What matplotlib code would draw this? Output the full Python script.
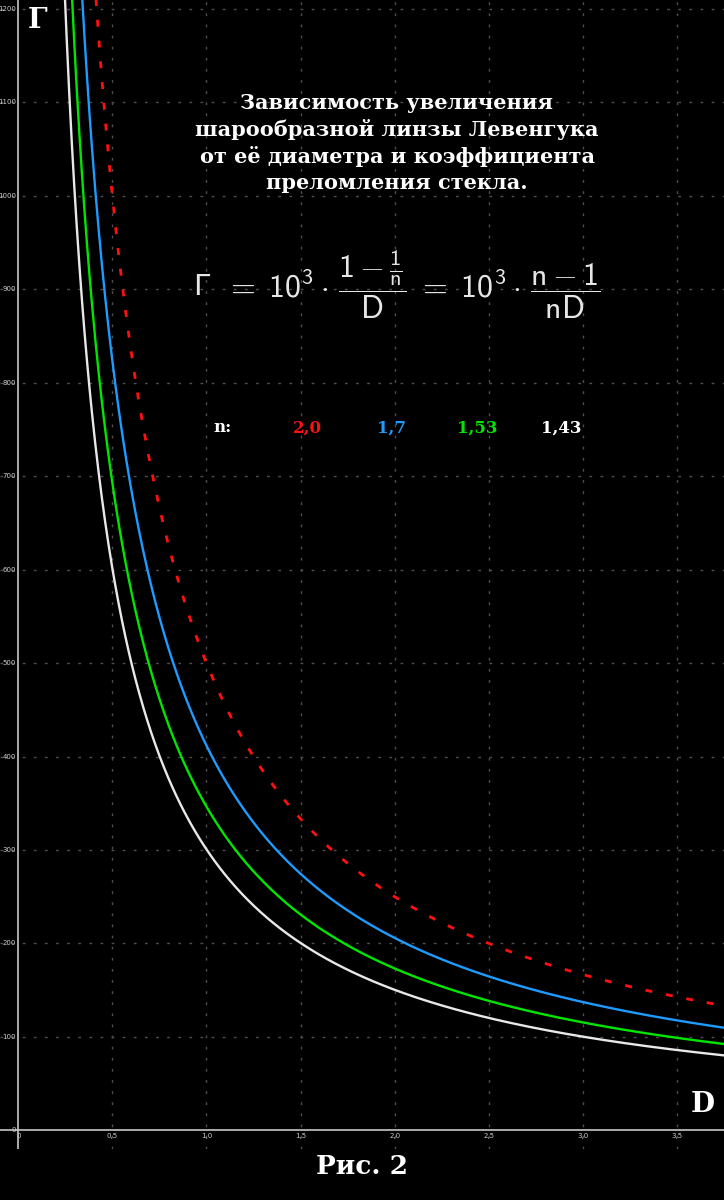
import numpy as np
import matplotlib
matplotlib.use("Agg")
import matplotlib.pyplot as plt

# Data
n_values = [2.0, 1.7, 1.53, 1.43]
n_labels = ["2,0", "1,7", "1,53", "1,43"]
colors = ["#ff1010", "#1e9bff", "#00e600", "#e8e8e8"]
styles = [(0, (2.5, 5)), "-", "-", "-"]
x_ticks = [0, 0.5, 1.0, 1.5, 2.0, 2.5, 3.0, 3.5]
x_tick_labels = ["0", "0,5", "1,0", "1,5", "2,0", "2,5", "3,0", "3,5"]
y_ticks = [0, 100, 200, 300, 400, 500, 600, 700, 800, 900, 1000, 1100, 1200]

plt.rcParams["mathtext.fontset"] = "custom"
plt.rcParams["mathtext.rm"] = "cmss10"
plt.rcParams["mathtext.sf"] = "cmss10"
plt.rcParams["mathtext.it"] = "cmss10"

fig = plt.figure(figsize=(7.24, 12), dpi=100, facecolor="black")
ax = fig.add_axes([0, 1 - 1149 / 1200, 1, 1149 / 1200], facecolor="black")

xmin, xmax = -0.097, 3.75
ymin, ymax = -20.0, 1209.6
ax.set_xlim(xmin, xmax)
ax.set_ylim(ymin, ymax)

for s in ax.spines.values():
    s.set_visible(False)
ax.set_xticks([])
ax.set_yticks([])

# grid
for xt in x_ticks[1:]:
    ax.axvline(xt, color="#4f4f4f", lw=1.0, ls=(0, (2, 6)), zorder=1)
for yt in y_ticks[1:]:
    ax.axhline(yt, color="#4f4f4f", lw=1.0, ls=(0, (2, 6)), zorder=1)

# axes lines
ax.axhline(0, color="#c8c8c8", lw=1.2, zorder=2)
ax.axvline(0, color="#c8c8c8", lw=1.2, zorder=2)

# tick labels
for xt, lab in zip(x_ticks, x_tick_labels):
    ax.text(xt, -3, lab, color="#cfcfcf", fontsize=5, ha="center", va="top", zorder=3)
for yt in y_ticks:
    ax.text(-0.012, yt, str(yt), color="#cfcfcf", fontsize=5, ha="right", va="center", zorder=3)

# curves (function defined by the formula shown on the chart)
D = np.linspace(0.2, xmax, 800)
for n, c, ls in zip(n_values, colors, styles):
    G = 1000 * (1 - 1 / n) / D
    ax.plot(D, G, color=c, lw=1.7 if ls == "-" else 2.0, ls=ls, zorder=4)

serif = ["DejaVu Serif"]
# title
fig.text(397 / 724, 1 - 143 / 1200,
         "Зависимость увеличения\nшарообразной линзы Левенгука\nот её диаметра и коэффициента\nпреломления стекла.",
         color="white", fontsize=15, fontweight="bold", family=serif,
         ha="center", va="center", linespacing=1.35)

# formula
fig.text(201 / 724, 1 - 287 / 1200, "Γ", color="#e6e6e6", fontsize=21,
         family=["DejaVu Sans"], ha="center", va="center")
fig.text(600 / 724, 1 - 285 / 1200,
         r"$=\ 10^3\cdot\,\dfrac{1-\frac{1}{n}}{D}\ =\ 10^3\cdot\,\dfrac{n-1}{nD}$",
         color="#e6e6e6", fontsize=23, ha="right", va="center")

# legend row
fig.text(222 / 724, 1 - 428 / 1200, "n:", color="white", fontsize=12, fontweight="bold",
         family=serif, ha="center", va="center")
leg_x = [307, 392, 477, 561]
for x, lab, c in zip(leg_x, n_labels, colors):
    fig.text(x / 724, 1 - 428 / 1200, lab, color=c if c != "#e8e8e8" else "white",
             fontsize=12, fontweight="bold", family=serif, ha="center", va="center")

# axis letters
fig.text(38 / 724, 1 - 20 / 1200, "Γ", color="white", fontsize=20, fontweight="bold",
         family=serif, ha="center", va="center")
fig.text(703 / 724, 1 - 1105 / 1200, "D", color="white", fontsize=20, fontweight="bold",
         family=serif, ha="center", va="center")

# caption
fig.text(362 / 724, 1 - 1167 / 1200, "Рис. 2", color="white", fontsize=19, fontweight="bold",
         family=serif, ha="center", va="center")

fig.savefig("out.png", dpi=100, facecolor="black")
